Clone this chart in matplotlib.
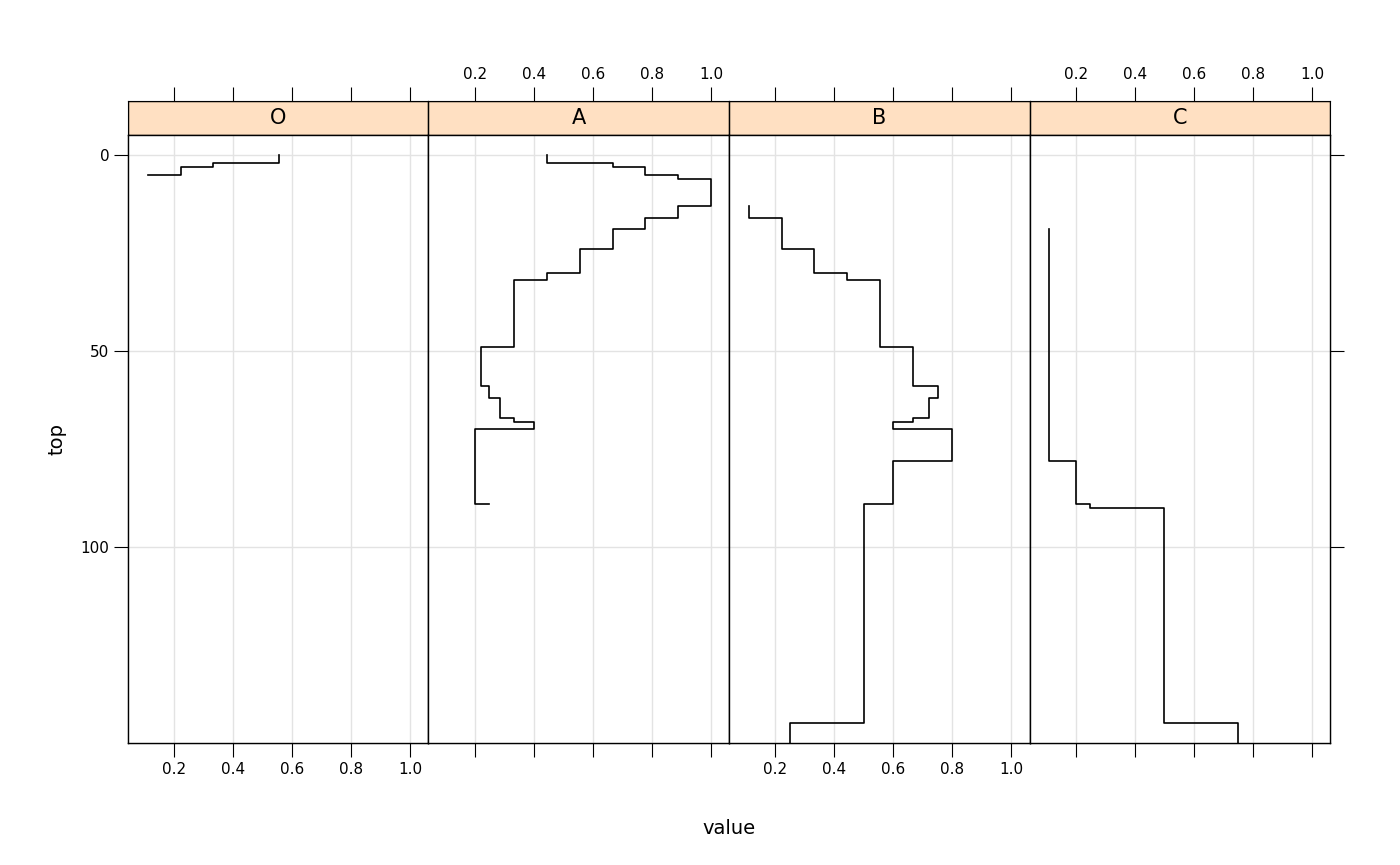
import numpy as np
import matplotlib.pyplot as plt

panels = ["O", "A", "B", "C"]
# horizons per panel: top depth, bottom depth, value
tops = {
    "O": [0, 2, 3, 5],
    "A": [0, 2, 3, 5, 6, 13, 16, 19, 24, 30, 32, 49, 59, 62, 67, 68, 70],
    "B": [13, 16, 24, 30, 32, 49, 59, 62, 67, 68, 70, 78, 89, 145],
    "C": [19, 78, 89, 90, 145],
}
bottoms = {
    "O": [2, 3, 5, 5],
    "A": [2, 3, 5, 6, 13, 16, 19, 24, 30, 32, 49, 59, 62, 67, 68, 70, 89],
    "B": [16, 24, 30, 32, 49, 59, 62, 67, 68, 70, 78, 89, 145, 150],
    "C": [78, 89, 90, 145, 150],
}
values = {
    "O": [0.556, 0.333, 0.222, 0.111],
    "A": [0.444, 0.667, 0.778, 0.889, 1.0, 0.889, 0.778, 0.667, 0.556, 0.444,
          0.333, 0.222, 0.25, 0.286, 0.333, 0.4, 0.2],
    "B": [0.111, 0.222, 0.333, 0.444, 0.556, 0.667, 0.75, 0.72, 0.667, 0.6,
          0.8, 0.6, 0.5, 0.25],
    "C": [0.111, 0.2, 0.25, 0.5, 0.75],
}
A_END = 0.25  # last horizontal stub in A

W, H = 1400, 865
fig = plt.figure(figsize=(14, 8.65), dpi=100)
xlim = (0.044, 1.061)
ylim = (150, -5.1)
xt = [0.2, 0.4, 0.6, 0.8, 1.0]
left, pw = 128, 300.5
top_strip, strip_bot, bot = 101, 135, 743

for i, p in enumerate(panels):
    x0 = left + i * pw
    # frame axes (incl. strip) for top ticks
    fr = fig.add_axes([x0 / W, 1 - bot / H, pw / W, (bot - top_strip) / H])
    fr.set_xlim(xlim)
    fr.set_yticks([])
    fr.patch.set_alpha(0)
    fr.tick_params(axis="x", bottom=False, labelbottom=False, top=True,
                   labeltop=(i % 2 == 1), direction="out", length=10, labelsize=11)
    fr.set_xticks(xt)
    fr.set_xticklabels(["0.2", "0.4", "0.6", "0.8", "1.0"])
    frac = (strip_bot - top_strip) / (bot - top_strip)
    fr.add_patch(plt.Rectangle((0, 1 - frac), 1, frac, transform=fr.transAxes,
                               facecolor="#ffe0c2", edgecolor="black", lw=1, zorder=0))
    fr.text(0.5, 1 - frac / 2, p, transform=fr.transAxes, ha="center", va="center", fontsize=15)

    ax = fig.add_axes([x0 / W, 1 - bot / H, pw / W, (bot - strip_bot) / H])
    ax.set_xlim(xlim)
    ax.set_ylim(ylim)
    ax.set_xticks(xt)
    ax.set_yticks([0, 50, 100])
    ax.grid(color="#e3e3e3", lw=1)
    ax.set_axisbelow(True)
    ax.tick_params(axis="x", direction="out", length=10, labelsize=11,
                   labelbottom=(i % 2 == 0))
    if i % 2 == 0:
        ax.set_xticklabels(["0.2", "0.4", "0.6", "0.8", "1.0"])
    ax.tick_params(axis="y", direction="out", length=10, labelsize=11,
                   left=(i == 0), labelleft=(i == 0), right=(i == 3))
    for s in ax.spines.values():
        s.set_linewidth(1)
    if i == 0:
        ax.set_ylabel("top", fontsize=14, labelpad=10)

    xs, ys = [], []
    for t, b, v in zip(tops[p], bottoms[p], values[p]):
        xs += [v, v]
        ys += [t, b]
    if p == "A":
        xs.append(A_END)
        ys.append(bottoms[p][-1])
    ax.plot(xs, ys, color="black", lw=1.2)

fig.text((left + 2 * pw) / W, 1 - 828 / H, "value", ha="center", va="center", fontsize=14)
fig.savefig("out.png", dpi=100)
